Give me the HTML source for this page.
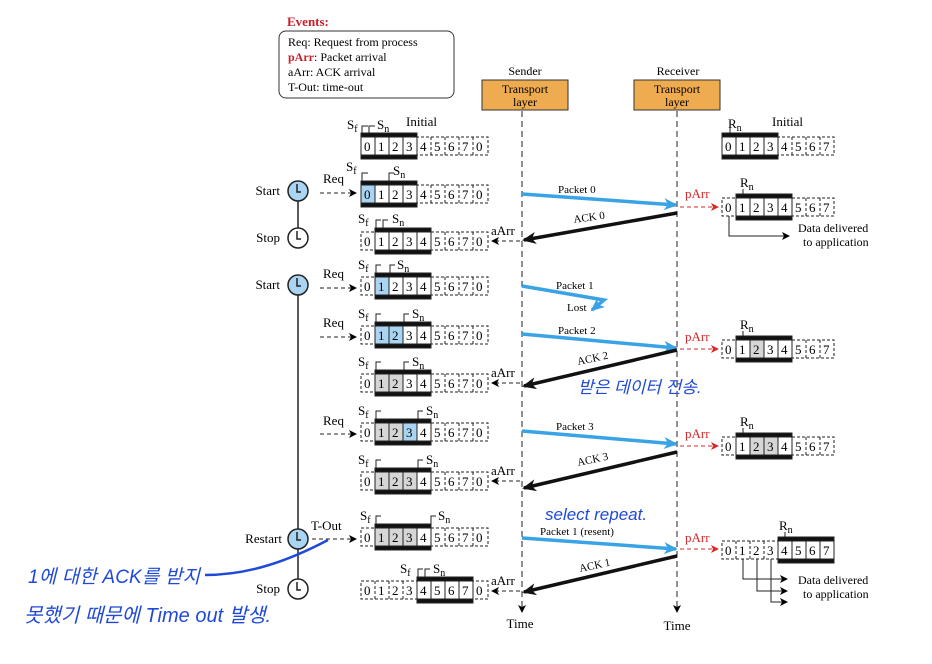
<!DOCTYPE html>
<html><head><meta charset="utf-8"><style>
body{margin:0;background:#fff}
svg{display:block;font-family:"Liberation Serif",serif}
.d{font-size:13px}
.s{font-size:12px}
.hw{font-family:"Liberation Sans","Noto Sans CJK KR",sans-serif;fill:#1f49d8;font-style:italic}
</style></head><body>
<svg width="932" height="664" viewBox="0 0 932 664" xmlns="http://www.w3.org/2000/svg">
<defs>
<marker id="ab" markerWidth="8" markerHeight="8" refX="7" refY="4" orient="auto" markerUnits="userSpaceOnUse"><path d="M0,0 L8,4 L0,8 L2,4z" fill="#000"/></marker>
<marker id="ar" markerWidth="8" markerHeight="8" refX="7" refY="4" orient="auto" markerUnits="userSpaceOnUse"><path d="M0,0 L8,4 L0,8 L2,4z" fill="#d42a2a"/></marker>
<marker id="abl" markerWidth="14" markerHeight="12" refX="12" refY="6" orient="auto" markerUnits="userSpaceOnUse"><path d="M0,0 L14,6 L0,12 L4,6z" fill="#3aa3e6"/></marker>
<marker id="abk" markerWidth="14" markerHeight="12" refX="12" refY="6" orient="auto" markerUnits="userSpaceOnUse"><path d="M0,0 L14,6 L0,12 L4,6z" fill="#111"/></marker>
</defs>

<!-- Events box -->
<text x="287" y="26" font-size="13" font-weight="bold" fill="#c8202a">Events:</text>
<rect x="279" y="31" width="175" height="67" rx="7" fill="#fff" stroke="#333"/>
<text x="288" y="46" class="s">Req: Request from process</text>
<text x="288" y="61" class="s"><tspan fill="#c8202a" font-weight="bold">pArr</tspan>: Packet arrival</text>
<text x="288" y="76" class="s">aArr: ACK arrival</text>
<text x="288" y="91" class="s">T-Out: time-out</text>

<!-- Sender / receiver -->
<text x="525" y="75" class="s" text-anchor="middle">Sender</text>
<text x="678" y="75" class="s" text-anchor="middle">Receiver</text>
<rect x="482" y="80" width="86" height="30" fill="#eeab4f" stroke="#333"/>
<text x="525" y="93" class="s" text-anchor="middle">Transport</text>
<text x="525" y="106" class="s" text-anchor="middle">layer</text>
<rect x="634" y="80" width="86" height="30" fill="#eeab4f" stroke="#333"/>
<text x="677" y="93" class="s" text-anchor="middle">Transport</text>
<text x="677" y="106" class="s" text-anchor="middle">layer</text>
<line x1="522" y1="111" x2="522" y2="612" stroke="#222" stroke-dasharray="6,4" marker-end="url(#ab)"/>
<line x1="677" y1="111" x2="677" y2="612" stroke="#222" stroke-dasharray="6,4" marker-end="url(#ab)"/>
<text x="520" y="628" class="d" text-anchor="middle">Time</text>
<text x="677" y="630" class="d" text-anchor="middle">Time</text>

<!-- Clocks -->
<line x1="298" y1="191" x2="298" y2="238" stroke="#222" stroke-width="1.5"/>
<line x1="298" y1="285" x2="298" y2="589" stroke="#222" stroke-width="1.5"/>
<g stroke="#222" stroke-width="1.5">
<circle cx="298" cy="191" r="10" fill="#a9d4f2"/><circle cx="298" cy="238" r="10" fill="#fff"/>
<circle cx="298" cy="285" r="10" fill="#a9d4f2"/><circle cx="298" cy="539" r="10" fill="#a9d4f2"/>
<circle cx="298" cy="589" r="10" fill="#fff"/>
<path d="M297,184 v8 h4 M297,231 v8 h4 M297,278 v8 h4 M297,532 v8 h4 M297,582 v8 h4" fill="none"/>
</g>
<text x="280" y="195" class="d" text-anchor="end">Start</text>
<text x="280" y="242" class="d" text-anchor="end">Stop</text>
<text x="280" y="289" class="d" text-anchor="end">Start</text>
<text x="282" y="543" class="d" text-anchor="end">Restart</text>
<text x="280" y="593" class="d" text-anchor="end">Stop</text>

<!-- Req / aArr arrows sender -->
<g stroke="#222" stroke-dasharray="4,3" marker-end="url(#ab)">
<line x1="320" y1="193" x2="356" y2="193"/>
<line x1="320" y1="288" x2="356" y2="288"/>
<line x1="320" y1="337" x2="356" y2="337"/>
<line x1="320" y1="434" x2="356" y2="434"/>
<line x1="312" y1="539" x2="356" y2="539"/>
<line x1="520" y1="241" x2="492" y2="241"/>
<line x1="520" y1="383" x2="492" y2="383"/>
<line x1="520" y1="481" x2="492" y2="481"/>
<line x1="520" y1="591" x2="492" y2="591"/>
</g>
<text x="323" y="183" class="d">Req</text>
<text x="323" y="278" class="d">Req</text>
<text x="323" y="327" class="d">Req</text>
<text x="323" y="425" class="d">Req</text>
<text x="311" y="530" class="d">T-Out</text>
<text x="491" y="235" class="d">aArr</text>
<text x="491" y="377" class="d">aArr</text>
<text x="491" y="475" class="d">aArr</text>
<text x="491" y="585" class="d">aArr</text>

<!-- Sender windows -->
<g stroke="#222" fill="none">
<g transform="translate(0,146)">
<rect x="361" y="-9" width="127" height="18" stroke-dasharray="3,2"/>
<rect x="361" y="-9" width="56" height="18" fill="#fff"/>
<path d="M375,-9v18M389,-9v18M403,-9v18"/><path d="M431,-9v18M445,-9v18M459,-9v18M473,-9v18" stroke-dasharray="3,2"/>
<rect x="361" y="-13" width="56" height="4" fill="#111"/><rect x="361" y="9" width="56" height="4" fill="#111"/>
</g>
<g transform="translate(0,194)">
<rect x="361" y="-9" width="127" height="18" stroke-dasharray="3,2"/>
<rect x="361" y="-9" width="56" height="18" fill="#fff"/><rect x="361" y="-9" width="14" height="18" fill="#a9d4f2"/>
<path d="M375,-9v18M389,-9v18M403,-9v18"/><path d="M431,-9v18M445,-9v18M459,-9v18M473,-9v18" stroke-dasharray="3,2"/>
<rect x="361" y="-13" width="56" height="4" fill="#111"/><rect x="361" y="9" width="56" height="4" fill="#111"/>
</g>
<g transform="translate(0,241)">
<rect x="361" y="-9" width="127" height="18" stroke-dasharray="3,2"/>
<rect x="375" y="-9" width="56" height="18" fill="#fff"/>
<path d="M389,-9v18M403,-9v18M417,-9v18"/><path d="M375,-9v18M445,-9v18M459,-9v18M473,-9v18" stroke-dasharray="3,2"/>
<rect x="375" y="-13" width="56" height="4" fill="#111"/><rect x="375" y="9" width="56" height="4" fill="#111"/>
</g>
<g transform="translate(0,286)">
<rect x="361" y="-9" width="127" height="18" stroke-dasharray="3,2"/>
<rect x="375" y="-9" width="56" height="18" fill="#fff"/><rect x="375" y="-9" width="14" height="18" fill="#a9d4f2"/>
<path d="M389,-9v18M403,-9v18M417,-9v18"/><path d="M375,-9v18M445,-9v18M459,-9v18M473,-9v18" stroke-dasharray="3,2"/>
<rect x="375" y="-13" width="56" height="4" fill="#111"/><rect x="375" y="9" width="56" height="4" fill="#111"/>
</g>
<g transform="translate(0,335)">
<rect x="361" y="-9" width="127" height="18" stroke-dasharray="3,2"/>
<rect x="375" y="-9" width="56" height="18" fill="#fff"/><rect x="375" y="-9" width="28" height="18" fill="#a9d4f2"/>
<path d="M389,-9v18M403,-9v18M417,-9v18"/><path d="M375,-9v18M445,-9v18M459,-9v18M473,-9v18" stroke-dasharray="3,2"/>
<rect x="375" y="-13" width="56" height="4" fill="#111"/><rect x="375" y="9" width="56" height="4" fill="#111"/>
</g>
<g transform="translate(0,383)">
<rect x="361" y="-9" width="127" height="18" stroke-dasharray="3,2"/>
<rect x="375" y="-9" width="56" height="18" fill="#fff"/><rect x="375" y="-9" width="28" height="18" fill="#d6d6d6"/>
<path d="M389,-9v18M403,-9v18M417,-9v18"/><path d="M375,-9v18M445,-9v18M459,-9v18M473,-9v18" stroke-dasharray="3,2"/>
<rect x="375" y="-13" width="56" height="4" fill="#111"/><rect x="375" y="9" width="56" height="4" fill="#111"/>
</g>
<g transform="translate(0,432)">
<rect x="361" y="-9" width="127" height="18" stroke-dasharray="3,2"/>
<rect x="375" y="-9" width="56" height="18" fill="#fff"/><rect x="375" y="-9" width="28" height="18" fill="#d6d6d6"/><rect x="403" y="-9" width="14" height="18" fill="#a9d4f2"/>
<path d="M389,-9v18M403,-9v18M417,-9v18"/><path d="M375,-9v18M445,-9v18M459,-9v18M473,-9v18" stroke-dasharray="3,2"/>
<rect x="375" y="-13" width="56" height="4" fill="#111"/><rect x="375" y="9" width="56" height="4" fill="#111"/>
</g>
<g transform="translate(0,481)">
<rect x="361" y="-9" width="127" height="18" stroke-dasharray="3,2"/>
<rect x="375" y="-9" width="56" height="18" fill="#fff"/><rect x="375" y="-9" width="42" height="18" fill="#d6d6d6"/>
<path d="M389,-9v18M403,-9v18M417,-9v18"/><path d="M375,-9v18M445,-9v18M459,-9v18M473,-9v18" stroke-dasharray="3,2"/>
<rect x="375" y="-13" width="56" height="4" fill="#111"/><rect x="375" y="9" width="56" height="4" fill="#111"/>
</g>
<g transform="translate(0,537)">
<rect x="361" y="-9" width="127" height="18" stroke-dasharray="3,2"/>
<rect x="375" y="-9" width="56" height="18" fill="#fff"/><rect x="375" y="-9" width="42" height="18" fill="#d6d6d6"/>
<path d="M389,-9v18M403,-9v18M417,-9v18"/><path d="M375,-9v18M445,-9v18M459,-9v18M473,-9v18" stroke-dasharray="3,2"/>
<rect x="375" y="-13" width="56" height="4" fill="#111"/><rect x="375" y="9" width="56" height="4" fill="#111"/>
</g>
<g transform="translate(0,590)">
<rect x="361" y="-9" width="127" height="18" stroke-dasharray="3,2"/>
<rect x="417" y="-9" width="56" height="18" fill="#fff"/>
<path d="M431,-9v18M445,-9v18M459,-9v18"/><path d="M375,-9v18M389,-9v18M403,-9v18M473,-9v18" stroke-dasharray="3,2"/>
<rect x="417" y="-13" width="56" height="4" fill="#111"/><rect x="417" y="9" width="56" height="4" fill="#111"/>
</g>
</g>
<g class="d">
<text x="364 378 392 406 420 434 448 462 476" y="151">012345670</text>
<text x="364 378 392 406 420 434 448 462 476" y="199">012345670</text>
<text x="364 378 392 406 420 434 448 462 476" y="246">012345670</text>
<text x="364 378 392 406 420 434 448 462 476" y="291">012345670</text>
<text x="364 378 392 406 420 434 448 462 476" y="340">012345670</text>
<text x="364 378 392 406 420 434 448 462 476" y="388">012345670</text>
<text x="364 378 392 406 420 434 448 462 476" y="437">012345670</text>
<text x="364 378 392 406 420 434 448 462 476" y="486">012345670</text>
<text x="364 378 392 406 420 434 448 462 476" y="542">012345670</text>
<text x="364 378 392 406 420 434 448 462 476" y="595">012345670</text>
</g>
<!-- Sf / Sn markers -->
<g stroke="#222" fill="none">
<path d="M362,133v-7h6 M369,133v-7h6"/>
<path d="M362,181v-8h6 M389,181v-8h5"/>
<path d="M376,228v-8h5 M383,228v-8h5"/>
<path d="M376,273v-8h5 M390,273v-8h5"/>
<path d="M376,322v-8h5 M404,322v-8h5"/>
<path d="M376,370v-8h5 M404,370v-8h5"/>
<path d="M376,419v-8h5 M418,419v-8h5"/>
<path d="M376,468v-8h5 M418,468v-8h5"/>
<path d="M376,524v-8h5 M431,524v-8h5"/>
<path d="M418,577v-8h5 M425,577v-8h5"/>
</g>
<g class="d">
<text x="347" y="129">S<tspan font-size="10" dy="3">f</tspan></text><text x="377" y="129">S<tspan font-size="10" dy="3">n</tspan></text><text x="406" y="126">Initial</text>
<text x="346" y="171">S<tspan font-size="10" dy="3">f</tspan></text><text x="393" y="175">S<tspan font-size="10" dy="3">n</tspan></text>
<text x="358" y="223">S<tspan font-size="10" dy="3">f</tspan></text><text x="392" y="223">S<tspan font-size="10" dy="3">n</tspan></text>
<text x="358" y="269">S<tspan font-size="10" dy="3">f</tspan></text><text x="397" y="269">S<tspan font-size="10" dy="3">n</tspan></text>
<text x="358" y="318">S<tspan font-size="10" dy="3">f</tspan></text><text x="412" y="318">S<tspan font-size="10" dy="3">n</tspan></text>
<text x="358" y="366">S<tspan font-size="10" dy="3">f</tspan></text><text x="412" y="366">S<tspan font-size="10" dy="3">n</tspan></text>
<text x="358" y="415">S<tspan font-size="10" dy="3">f</tspan></text><text x="426" y="415">S<tspan font-size="10" dy="3">n</tspan></text>
<text x="358" y="464">S<tspan font-size="10" dy="3">f</tspan></text><text x="426" y="464">S<tspan font-size="10" dy="3">n</tspan></text>
<text x="360" y="520">S<tspan font-size="10" dy="3">f</tspan></text><text x="438" y="520">S<tspan font-size="10" dy="3">n</tspan></text>
<text x="400" y="573">S<tspan font-size="10" dy="3">f</tspan></text><text x="433" y="573">S<tspan font-size="10" dy="3">n</tspan></text>
</g>

<!-- Receiver windows -->
<g stroke="#222" fill="none">
<g transform="translate(0,146)">
<rect x="722" y="-9" width="112" height="18" stroke-dasharray="3,2"/>
<rect x="722" y="-9" width="56" height="18" fill="#fff"/>
<path d="M736,-9v18M750,-9v18M764,-9v18"/><path d="M792,-9v18M806,-9v18M820,-9v18" stroke-dasharray="3,2"/>
<rect x="722" y="-13" width="56" height="4" fill="#111"/><rect x="722" y="9" width="56" height="4" fill="#111"/>
</g>
<g transform="translate(0,207)">
<rect x="722" y="-9" width="112" height="18" stroke-dasharray="3,2"/>
<rect x="736" y="-9" width="56" height="18" fill="#fff"/>
<path d="M750,-9v18M764,-9v18M778,-9v18"/><path d="M806,-9v18M820,-9v18" stroke-dasharray="3,2"/>
<rect x="736" y="-13" width="56" height="4" fill="#111"/><rect x="736" y="9" width="56" height="4" fill="#111"/>
</g>
<g transform="translate(0,349)">
<rect x="722" y="-9" width="112" height="18" stroke-dasharray="3,2"/>
<rect x="736" y="-9" width="56" height="18" fill="#fff"/><rect x="750" y="-9" width="14" height="18" fill="#d6d6d6"/>
<path d="M750,-9v18M764,-9v18M778,-9v18"/><path d="M806,-9v18M820,-9v18" stroke-dasharray="3,2"/>
<rect x="736" y="-13" width="56" height="4" fill="#111"/><rect x="736" y="9" width="56" height="4" fill="#111"/>
</g>
<g transform="translate(0,446)">
<rect x="722" y="-9" width="112" height="18" stroke-dasharray="3,2"/>
<rect x="736" y="-9" width="56" height="18" fill="#fff"/><rect x="750" y="-9" width="28" height="18" fill="#d6d6d6"/>
<path d="M750,-9v18M764,-9v18M778,-9v18"/><path d="M806,-9v18M820,-9v18" stroke-dasharray="3,2"/>
<rect x="736" y="-13" width="56" height="4" fill="#111"/><rect x="736" y="9" width="56" height="4" fill="#111"/>
</g>
<g transform="translate(0,550)">
<rect x="722" y="-9" width="112" height="18" stroke-dasharray="3,2"/>
<rect x="778" y="-9" width="56" height="18" fill="#fff"/>
<path d="M792,-9v18M806,-9v18M820,-9v18"/><path d="M736,-9v18M750,-9v18M764,-9v18" stroke-dasharray="3,2"/>
<rect x="778" y="-13" width="56" height="4" fill="#111"/><rect x="778" y="9" width="56" height="4" fill="#111"/>
</g>
</g>
<g class="d">
<text x="725 739 753 767 781 795 809 823" y="151">01234567</text>
<text x="725 739 753 767 781 795 809 823" y="212">01234567</text>
<text x="725 739 753 767 781 795 809 823" y="354">01234567</text>
<text x="725 739 753 767 781 795 809 823" y="451">01234567</text>
<text x="725 739 753 767 781 795 809 823" y="555">01234567</text>
<text x="728" y="128">R<tspan font-size="10" dy="3">n</tspan></text><text x="772" y="126">Initial</text>
<text x="740" y="187">R<tspan font-size="10" dy="3">n</tspan></text>
<text x="740" y="329">R<tspan font-size="10" dy="3">n</tspan></text>
<text x="740" y="426">R<tspan font-size="10" dy="3">n</tspan></text>
<text x="779" y="530">R<tspan font-size="10" dy="3">n</tspan></text>
</g>
<g stroke="#222" fill="none">
<path d="M730,133v-5 M743,194v-5 M743,336v-5 M743,433v-5 M785,537v-5"/>
<path d="M729,216v20h60" marker-end="url(#ab)"/>
<path d="M743,559v20h44" marker-end="url(#ab)"/>
<path d="M757,559v32h30" marker-end="url(#ab)"/>
<path d="M771,559v43h16" marker-end="url(#ab)"/>
</g>
<text x="798" y="232" class="s">Data delivered</text>
<text x="803" y="246" class="s">to application</text>
<text x="798" y="584" class="s">Data delivered</text>
<text x="803" y="598" class="s">to application</text>

<!-- pArr -->
<g stroke="#d42a2a" stroke-dasharray="4,3" marker-end="url(#ar)">
<line x1="680" y1="207" x2="718" y2="207"/>
<line x1="680" y1="349" x2="718" y2="349"/>
<line x1="680" y1="446" x2="718" y2="446"/>
<line x1="680" y1="549" x2="718" y2="549"/>
</g>
<g class="d" fill="#d42a2a">
<text x="685" y="198">pArr</text><text x="685" y="341">pArr</text>
<text x="685" y="438">pArr</text><text x="685" y="542">pArr</text>
</g>

<!-- Packets -->
<g stroke="#3aa3e6" stroke-width="3.5" fill="none" marker-end="url(#abl)">
<line x1="522" y1="194" x2="676" y2="205"/>
<path d="M522,286 L604,300 L592,310"/>
<line x1="522" y1="334" x2="676" y2="348"/>
<line x1="522" y1="431" x2="676" y2="444"/>
<line x1="522" y1="538" x2="676" y2="549"/>
</g>
<g stroke="#111" stroke-width="3.5" marker-end="url(#abk)">
<line x1="677" y1="213" x2="524" y2="240"/>
<line x1="677" y1="350" x2="524" y2="386"/>
<line x1="677" y1="452" x2="524" y2="488"/>
<line x1="677" y1="556" x2="524" y2="592"/>
</g>
<g font-size="11">
<text x="558" y="193">Packet 0</text>
<text x="574" y="223" transform="rotate(-8 574 223)">ACK 0</text>
<text x="556" y="289">Packet 1</text>
<text x="567" y="311">Lost</text>
<text x="558" y="334">Packet 2</text>
<text x="578" y="365" transform="rotate(-12 578 365)">ACK 2</text>
<text x="556" y="430">Packet 3</text>
<text x="578" y="466" transform="rotate(-12 578 466)">ACK 3</text>
<text x="540" y="535">Packet 1 (resent)</text>
<text x="580" y="572" transform="rotate(-12 580 572)">ACK 1</text>
</g>

<!-- Handwriting -->
<path d="M205,575 C250,575 290,560 328,540" stroke="#1f49d8" stroke-width="2.5" fill="none"/>
<text x="578" y="393" font-size="17" class="hw">받은 데이터 전송.</text>
<text x="545" y="520" font-size="17" class="hw">select repeat.</text>
<text x="28" y="583" font-size="19" class="hw" textLength="172">1에 대한 ACK를 받지</text>
<text x="24" y="622" font-size="20" class="hw">못했기 때문에 Time out 발생.</text>
</svg>
</body></html>
